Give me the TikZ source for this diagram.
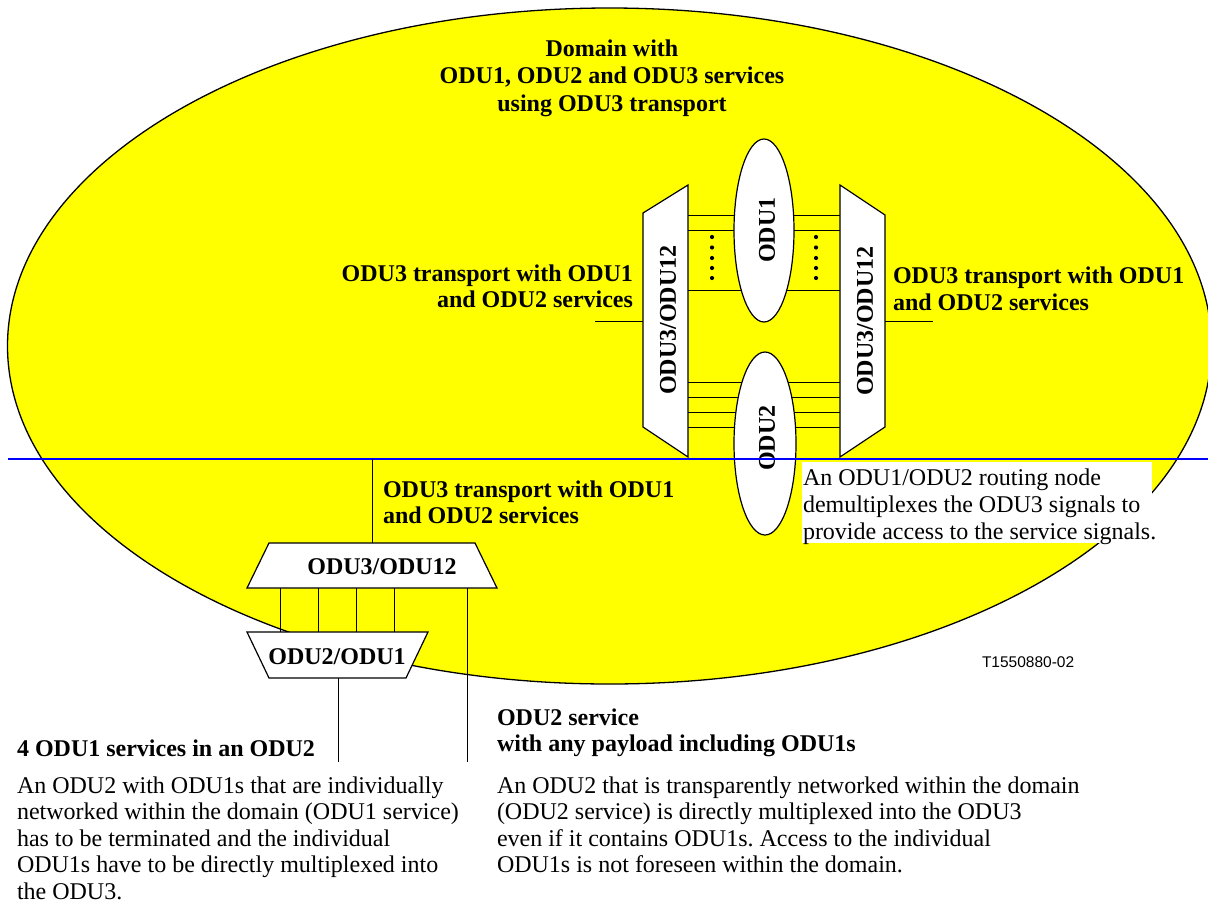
\documentclass[tikz,border=0pt]{standalone}
\usepackage{fontspec}
\setmainfont{Liberation Serif}
\newfontfamily\arialfont{Liberation Sans}
\definecolor{dyellow}{RGB}{255,255,0}
\definecolor{dblue}{RGB}{0,0,255}
\frenchspacing
\begin{document}
\begin{tikzpicture}[x=1pt,y=-1pt,
  every node/.style={inner sep=0pt, outer sep=0pt},
  box/.style={draw=black, fill=white, line width=1.2pt, line join=miter},
  wire/.style={draw=black, line width=1pt},
  lbl/.style={font=\fontsize{24}{26.5}\selectfont\bfseries},
  txt/.style={font=\fontsize{24}{26.5}\selectfont, align=left, anchor=north west}]
\useasboundingbox (0,0) rectangle (1208,903);
\fill[white] (0,0) rectangle (1208,903);
% domain
\draw[fill=dyellow, line width=1.3pt] (609.5,346) ellipse [x radius=602, y radius=338];
% named points
\coordinate (Ltr) at (688,185); \coordinate (Lbr) at (688,457);
\coordinate (Rtl) at (840,185); \coordinate (Rbl) at (840,457);
% inner wires
\foreach \y in {215,230,290,382,397,412,427} \draw[wire] (688,\y) -- (840,\y);
% trapezoids
\draw[box] (643,213) -- (Ltr) -- (Lbr) -- (643,427) -- cycle;
\draw[box] (Rtl) -- (885,215) -- (885,427) -- (Rbl) -- cycle;
% routing ellipses
\draw[box] (764,230.5) ellipse [x radius=30, y radius=91.5];
\draw[box] (765,443.5) ellipse [x radius=31, y radius=91.5];
\foreach \y in {237,247.5,258,268,278} {\fill (712,\y) circle[radius=2.1]; \fill (816,\y) circle[radius=2.1];}
\node[lbl, rotate=90] (ltxt) at (668,320) {ODU3/ODU12};
\node[lbl, rotate=90] (rtxt) at (865,321) {ODU3/ODU12};
\node[lbl, rotate=90] (odu1) at (767,230) {ODU1};
\node[lbl, rotate=90] (odu2) at (767,438) {ODU2};
% feeds
\coordinate (lf) at (595,321); \coordinate (rf) at (933,321);
\draw[wire] (lf) -- (643,321);
\draw[wire] (885,321) -- (rf);
\node[lbl, align=right, anchor=north east] (lnote) at (633,264.5) {ODU3 transport with ODU1\\and ODU2 services};
\node[lbl, align=left, anchor=north west] (rnote) at (893,267) {ODU3 transport with ODU1\\and ODU2 services};
\node[font=\fontsize{24}{27.5}\selectfont\bfseries, align=center, anchor=north] (title) at (612,39.5) {Domain with\\ODU1, ODU2 and ODU3 services\\using ODU3 transport};
% blue line
\draw[dblue, line width=2pt] (8,459) -- (1208,459);
% routing note
\fill[white] (802,462) rectangle (1152,543);
\node[font=\fontsize{24}{27}\selectfont, align=left, anchor=north west] (route) at (803,468.5) {An ODU1/ODU2 routing node\\demultiplexes the ODU3 signals to\\provide access to the service signals.};
% bottom multiplexers
\draw[wire] (372,459) -- (372,543);
\foreach \x in {280,318,356,394} \draw[wire] (\x,588) -- (\x,632);
\draw[box] (269,543) -- (475,543) -- (497,588) -- (247,588) -- cycle;
\draw[box] (247,632) -- (428,632) -- (406,678) -- (269,678) -- cycle;
\node[lbl] (m3) at (382,567) {ODU3/ODU12};
\node[lbl] (m2) at (337,657) {ODU2/ODU1};
\coordinate (s1) at (338,762); \coordinate (s2) at (467,762);
\draw[wire] (338,678) -- (s1);
\draw[wire] (467,588) -- (s2);
\node[lbl, align=left, anchor=north west] (bnote) at (383,480.5) {ODU3 transport with ODU1\\and ODU2 services};
\node[lbl, anchor=north west] (h1) at (17,739.5) {4 ODU1 services in an ODU2};
\node[txt] (b1) at (17,776.5) {An ODU2 with ODU1s that are individually\\networked within the domain (ODU1 service)\\has to be terminated and the individual\\ODU1s have to be directly multiplexed into\\the ODU3.};
\node[lbl, align=left, anchor=north west] (h2) at (497,708.5) {ODU2 service\\with any payload including ODU1s};
\node[txt] (b2) at (497,776.5) {An ODU2 that is transparently networked within the domain\\(ODU2 service) is directly multiplexed into the ODU3\\even if it contains ODU1s. Access to the individual\\ODU1s is not foreseen within the domain.};
\node[font=\arialfont\fontsize{15.5}{18}\selectfont, anchor=west] (ref) at (982,662) {T1550880-02};
\end{tikzpicture}
\end{document}
